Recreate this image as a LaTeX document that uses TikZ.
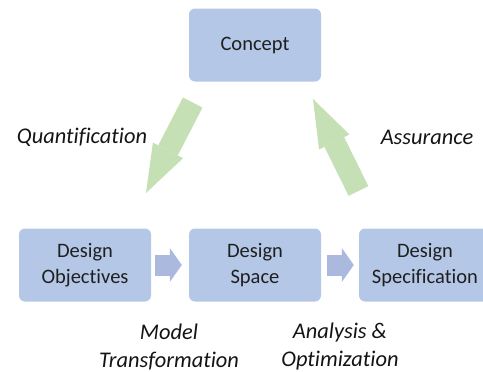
\documentclass[tikz,border=0pt]{standalone}
\usepackage{fontspec}
\setmainfont{Carlito}[Ligatures=NoCommon]
\usetikzlibrary{arrows.meta,positioning}

\definecolor{boxblue}{HTML}{B4C7E7}
\definecolor{flowblue}{HTML}{ABB9DF}
\definecolor{liftgreen}{HTML}{C5E0B4}

\begin{document}
\begin{tikzpicture}[%
x=1pt, y=-1pt,
node distance=170pt,
on grid,
auto,
block/.style={rectangle, rounded corners=6pt, fill=boxblue, minimum width=132pt,
  minimum height=73pt, align=center, text=black!88,
  font=\fontsize{20.5}{26}\selectfont},
flow/.style={draw=flowblue, line width=21pt,
  -{Triangle[length=12pt,width=34pt,line width=0pt]}},
lift/.style={draw=liftgreen, line width=22pt,
  -{Triangle[length=48pt,width=34pt,line width=0pt]}},
tag/.style={align=center, text=black!92, font=\fontsize{22.4}{28}\selectfont\itshape}
]
\useasboundingbox (0,0) rectangle (483,372);

\node[block] (concept) at (255,45) {Concept};
\node[block] (space) at (255,265) {Design\\Space};
\node[block] (objectives) [left of=space] {Design\\Objectives};
\node[block] (spec) [right of=space] {Design\\Specification};

% free ends of the big arrows
\coordinate (qtail) at (192.7,102.5);
\coordinate (qtip) at (146,193);
\coordinate (atail) at (358.5,191);
\coordinate (atip) at (313,99);

% flow along the bottom
\draw[flow] ([xshift=4pt]objectives.east) -- ([xshift=-7pt]space.west);
\draw[flow] ([xshift=6pt]space.east) -- ([xshift=-5pt]spec.west);

% down from and back up to the concept
\draw[lift] (qtail) -- (qtip);
\draw[lift] (atail) -- (atip);

\node[tag] (quant) at (82,137) {Quantification};
\node[tag] (assur) at (427,137) {Assurance};
\node[tag] (model) at (169,347) {Model\\Transformation};
\node[tag] (optim) at (340,347) {Analysis \&\\Optimization};

\end{tikzpicture}
\end{document}
